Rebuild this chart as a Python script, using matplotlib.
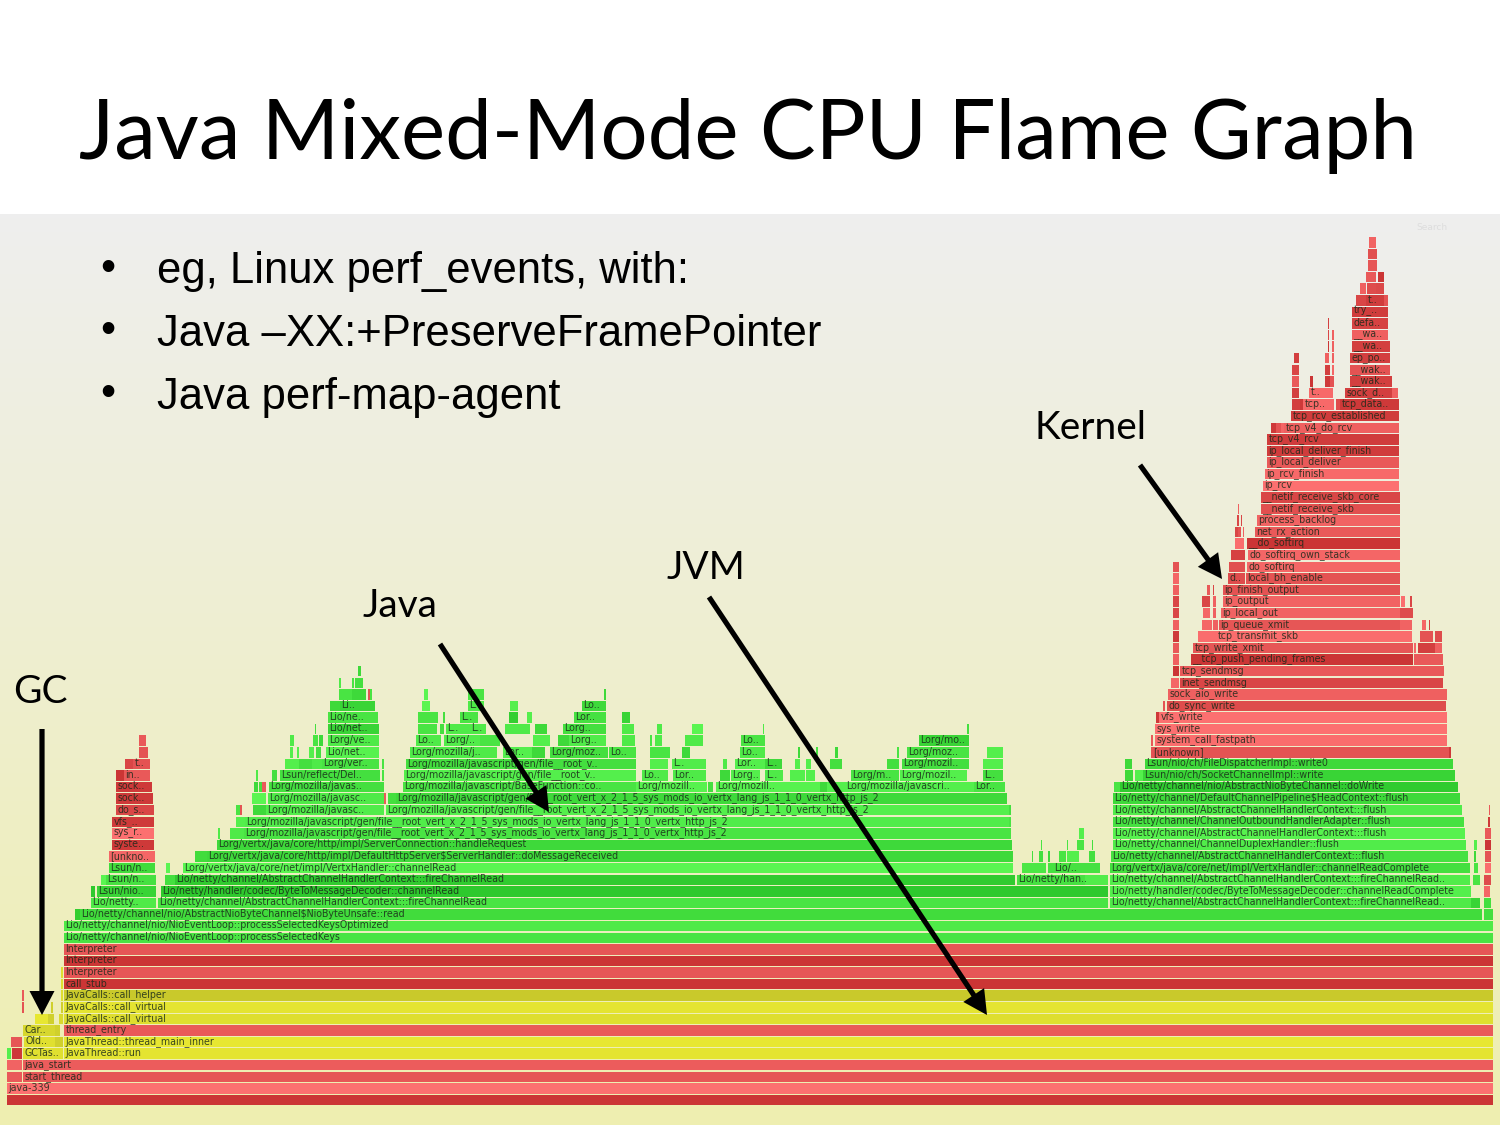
import numpy as np
import matplotlib
matplotlib.use("Agg")
import matplotlib.pyplot as plt
from matplotlib.patches import FancyArrowPatch

# frames: (depth, first sample, last sample, heat 0-1, label)
JS2 = "Lorg/mozilla/javascript/gen/file__root_vert_x_2_1_5_sys_mods_io_vertx_lang_js_1_1_0_vertx_http_js_2"
ACH = "Lio/netty/channel/AbstractChannelHandlerContext::"

root_frames = [
    (0, 7, 1493, .05, ""), (1, 7, 1493, .95, "java-339"),
    (2, 7, 22, .6, ""), (2, 23, 1493, .55, "start_thread"),
    (3, 7, 22, .75, ""), (3, 23, 1493, .65, "java_start"),
    (4, 12, 22, .1, ""), (5, 11, 22, .55, ""),
    (6, 64, 1493, .6, "thread_entry"), (8, 22, 24, .5, ""), (9, 22, 24, .6, ""),
    (10, 64, 1493, .05, "call_stub"), (11, 64, 1493, .55, "Interpreter"),
    (12, 64, 1493, .05, "Interpreter"), (13, 64, 1493, .55, "Interpreter"),
]

jvm_frames = [
    (4, 23, 63, .75, "GCTas.."), (4, 64, 1493, .85, "JavaThread::run"),
    (5, 24, 55, .75, "Old.."), (5, 55, 63, .4, ""),
    (5, 64, 1493, .9, "JavaThread::thread_main_inner"),
    (6, 23, 55, .55, "Car.."), (6, 55, 60, .4, ""),
    (7, 35, 48, .9, ""), (7, 48, 54, .4, ""), (7, 59, 63, .6, ""),
    (7, 64, 1493, .7, "JavaCalls::call_virtual"),
    (8, 51, 53, .4, ""), (8, 61, 63, .4, ""),
    (8, 64, 1493, .85, "JavaCalls::call_virtual"),
    (9, 61, 63, .7, ""), (9, 64, 1493, .25, "JavaCalls::call_helper"),
    (10, 61, 63, .7, ""), (11, 61, 63, .7, ""),
]

java_base_frames = [
    (4, 7, 11, .8, ""),
    (14, 64, 1493, .6, "Lio/netty/channel/nio/NioEventLoop::processSelectedKeys"),
    (15, 64, 1493, .7, "Lio/netty/channel/nio/NioEventLoop::processSelectedKeysOptimized"),
    (16, 75, 80, .2, ""),
    (16, 80, 1482, .45, "Lio/netty/channel/nio/AbstractNioByteChannel$NioByteUnsafe::read"),
    (16, 1484, 1493, .5, ""),
    (17, 91, 156, .7, "Lio/netty.."), (17, 158, 1108, .6, ACH + ":fireChannelRead"),
    (17, 1110, 1471, .7, ACH + ":fireChannelRead.."), (17, 1471, 1480, .3, ""), (17, 1484, 1491, .5, ""),
    (18, 91, 95, .1, ""), (18, 97, 156, .3, "Lsun/nio.."),
    (18, 161, 1108, .1, "Lio/netty/handler/codec/ByteToMessageDecoder::channelRead"),
    (18, 1110, 1471, .8, "Lio/netty/handler/codec/ByteToMessageDecoder::channelReadComplete"),
    (19, 101, 106, .9, ""), (19, 106, 156, .55, "Lsun/n.."),
    (19, 165, 175, .5, ""), (19, 175, 1015, .15, ACH + ":fireChannelRead"),
    (19, 1017, 1085, .55, "Lio/netty/han.."), (19, 1085, 1108, .75, ""),
    (19, 1110, 1470, .75, ACH + ":fireChannelRead.."), (19, 1473, 1480, .6, ""),
    (20, 109, 155, .45, "Lsun/n.."), (20, 166, 170, .9, ""),
    (20, 183, 1013, .9, "Lorg/vertx/java/core/net/impl/VertxHandler::channelRead"),
    (20, 1022, 1046, .65, ""), (20, 1048, 1053, .55, ""), (20, 1053, 1100, .55, "Lio/.."),
    (20, 1110, 1470, .5, "Lorg/vertx/java/core/net/impl/VertxHandler::channelReadComplete"),
    (20, 1474, 1478, .6, ""),
    (21, 195, 207, .45, ""), (21, 207, 1013, .4, "Lorg/vertx/java/core/http/impl/DefaultHttpServer$ServerHandler::doMessageReceived"),
    (21, 1032, 1033, .5, ""), (21, 1039, 1043, .5, ""), (21, 1048, 1050, .4, ""),
    (21, 1059, 1066, .6, ""), (21, 1067, 1072, .8, ""), (21, 1072, 1079, .8, ""), (21, 1089, 1095, .5, ""),
    (21, 1111, 1468, .55, ACH + ":flush"), (21, 1474, 1476, .4, ""),
    (22, 217, 1012, .4, "Lorg/vertx/java/core/http/impl/ServerConnection::handleRequest"),
    (22, 1041, 1042, .6, ""), (22, 1067, 1068, .6, ""), (22, 1077, 1084, .6, ""), (22, 1092, 1093, .5, ""),
    (22, 1113, 1466, .75, "Lio/netty/channel/ChannelDuplexHandler::flush"), (22, 1474, 1477, .8, ""),
    (23, 218, 220, .7, ""), (23, 230, 244, .7, ""), (23, 244, 1011, .6, JS2),
    (23, 1079, 1084, .8, ""), (23, 1113, 1465, .85, ACH + ":flush"),
    (24, 236, 245, .8, ""), (24, 245, 1010, .75, JS2),
    (24, 1009, 1011, .6, ""), (24, 1113, 1464, .55, "Lio/netty/channel/ChannelOutboundHandlerAdapter::flush"),
    (25, 236, 240, .6, ""), (25, 253, 266, .4, ""), (25, 266, 384, .75, "Lorg/mozilla/javasc.."),
    (25, 386, 1009, .8, JS2), (25, 1009, 1011, .5, ""),
    (25, 1113, 1462, .75, ACH + ":flush"),
    (26, 252, 266, .9, ""), (26, 268, 384, .7, "Lorg/mozilla/javasc.."),
    (26, 388, 396, .5, ""), (26, 396, 1007, .4, JS2),
    (26, 1113, 1460, .4, "Lio/netty/channel/DefaultChannelPipeline$HeadContext::flush"),
    (27, 254, 258, .4, ""), (27, 259, 262, .5, ""), (27, 269, 384, .5, "Lorg/mozilla/javas.."),
    (27, 403, 636, .6, "Lorg/mozilla/javascript/BaseFunction::co.."),
    (27, 636, 707, .85, "Lorg/mozill.."), (27, 708, 713, .5, ""), (27, 716, 820, .85, "Lorg/mozill.."),
    (27, 820, 827, .4, ""), (27, 827, 845, .8, ""),
    (27, 845, 974, .8, "Lorg/mozilla/javascri.."), (27, 974, 1005, .6, "Lor.."),
    (27, 1114, 1120, .6, ""), (27, 1120, 1458, .15, "Lio/netty/channel/nio/AbstractNioByteChannel::doWrite"),
    (28, 256, 258, .7, ""), (28, 272, 277, .5, ""), (28, 280, 380, .5, "Lsun/reflect/Del.."),
    (28, 382, 384, .6, ""), (28, 404, 636, .8, "Lorg/mozilla/javascript/gen/file__root_v.."),
    (28, 642, 668, .7, "Lo.."), (28, 673, 706, .7, "Lor.."), (28, 720, 730, .4, ""),
    (28, 731, 760, .8, "Lorg.."), (28, 765, 783, .7, "L.."), (28, 790, 805, .8, ""), (28, 806, 815, .8, ""),
    (28, 851, 899, .6, "Lorg/m.."), (28, 900, 967, .8, "Lorg/mozil.."), (28, 983, 1003, .5, "L.."),
    (28, 1125, 1133, .4, ""), (28, 1135, 1143, .8, ""),
    (28, 1143, 1455, .3, "Lsun/nio/ch/SocketChannelImpl::write"),
    (29, 285, 299, .8, ""), (29, 299, 312, .5, ""), (29, 312, 322, .7, ""), (29, 322, 379, .6, "Lorg/ver.."),
    (29, 382, 384, .6, ""), (29, 406, 636, .5, "Lorg/mozilla/javascript/gen/file__root_v.."),
    (29, 650, 668, .8, ""), (29, 672, 706, .75, "L.."), (29, 723, 727, .7, ""),
    (29, 735, 765, .8, "Lor.."), (29, 765, 782, .4, "L.."), (29, 795, 800, .8, ""), (29, 806, 811, .8, ""),
    (29, 830, 842, .5, ""), (29, 887, 899, .5, ""), (29, 902, 969, .5, "Lorg/mozil.."),
    (29, 983, 1003, .8, ""), (29, 1125, 1132, .4, ""),
    (29, 1145, 1453, .4, "Lsun/nio/ch/FileDispatcherImpl::write0"),
    (30, 290, 293, .8, ""), (30, 297, 299, .8, ""), (30, 309, 314, .8, ""), (30, 316, 321, .5, ""),
    (30, 326, 379, .85, "Lio/net.."), (30, 410, 497, .7, "Lorg/mozilla/j.."), (30, 503, 532, .8, "Lor.."),
    (30, 532, 545, .4, ""), (30, 550, 608, .5, "Lorg/moz.."), (30, 609, 636, .6, "Lo.."),
    (30, 650, 670, .6, ""), (30, 682, 690, .4, ""), (30, 740, 765, .7, "Lo.."),
    (30, 798, 800, .4, ""), (30, 816, 818, .6, ""), (30, 835, 838, .4, ""), (30, 897, 899, .6, ""),
    (30, 907, 969, .6, "Lorg/moz.."), (30, 987, 1003, .8, ""),
    (31, 290, 294, .7, ""), (31, 313, 318, .6, ""), (31, 319, 323, .4, ""), (31, 328, 379, .7, "Lorg/ve.."),
    (31, 416, 441, .7, "Lo.."), (31, 444, 480, .75, "Lorg/.."), (31, 480, 500, .6, ""),
    (31, 533, 550, .8, ""), (31, 558, 569, .4, ""), (31, 569, 606, .75, "Lorg.."),
    (31, 622, 635, .7, ""), (31, 650, 652, .6, ""), (31, 655, 662, .7, ""), (31, 685, 703, .7, ""),
    (31, 741, 765, .6, "Lo.."), (31, 919, 969, .3, "Lorg/mo.."),
    (32, 315, 316, .5, ""), (32, 328, 379, .3, "Lio/net.."), (32, 418, 437, .6, ""), (32, 440, 444, .5, ""),
    (32, 446, 470, .7, "L.."), (32, 470, 486, .7, "L.."), (32, 505, 530, .7, ""), (32, 535, 547, .4, ""),
    (32, 563, 606, .5, "Lorg.."), (32, 622, 634, .7, ""), (32, 657, 662, .7, ""), (32, 692, 703, .9, ""),
    (32, 763, 764, .7, ""), (32, 967, 969, .5, ""),
    (33, 328, 378, .6, "Lio/ne.."), (33, 418, 438, .6, ""), (33, 443, 445, .5, ""), (33, 460, 478, .6, "L.."),
    (33, 509, 518, .2, ""), (33, 527, 532, .8, ""), (33, 574, 606, .55, "Lor.."), (33, 622, 630, .3, ""),
    (34, 330, 340, .4, ""), (34, 340, 375, .3, "Li.."), (34, 422, 430, .9, ""), (34, 468, 484, .7, "L.."),
    (34, 510, 518, .8, ""), (34, 582, 606, .4, "Lo.."),
    (35, 339, 352, .6, ""), (35, 352, 366, .4, ""), (35, 370, 372, .6, ""), (35, 424, 428, .9, ""),
    (35, 468, 484, .6, ""), (35, 604, 606, .4, ""),
    (36, 339, 341, .7, ""), (36, 352, 354, .6, ""), (36, 355, 363, .5, ""), (37, 358, 361, .4, ""),
]

native_frames = [
    (18, 1484, 1490, .8, ""), (19, 1484, 1491, .4, ""), (20, 1485, 1491, .9, ""),
    (21, 109, 155, .8, "[unkno.."), (21, 1485, 1491, .5, ""),
    (22, 112, 154, .1, "syste.."), (22, 1485, 1491, .05, ""),
    (23, 112, 154, .95, "sys_r.."), (23, 1485, 1491, .6, ""),
    (24, 112, 154, .12, "vfs_.."), (24, 1488, 1490, .1, ""),
    (25, 116, 154, .3, "do_s.."), (25, 240, 242, .5, ""), (25, 1489, 1490, .6, ""),
    (26, 116, 153, .1, "sock.."), (26, 384, 386, .6, ""),
    (27, 116, 152, .1, "sock.."), (27, 262, 266, .6, ""),
    (28, 116, 124, .05, ""), (28, 124, 150, .6, "in.."),
    (29, 125, 133, .3, ""), (29, 133, 150, .5, "t.."),
    (30, 139, 148, .5, ""), (31, 139, 146, .6, ""), (35, 368, 370, .5, ""),
    (30, 1151, 1152, .5, ""), (30, 1152, 1449, .5, "[unknown]"), (30, 1449, 1451, .1, ""),
    (31, 1151, 1153, .6, ""), (31, 1155, 1447, .9, "system_call_fastpath"),
    (32, 1155, 1447, .95, "sys_write"), (33, 1156, 1159, .1, ""), (33, 1159, 1447, .95, "vfs_write"),
    (34, 1163, 1165, .5, ""), (34, 1167, 1446, .4, "do_sync_write"),
    (35, 1168, 1447, .7, "sock_aio_write"), (36, 1171, 1179, .8, ""), (36, 1180, 1443, .3, "inet_sendmsg"),
    (37, 1173, 1179, .05, ""), (37, 1180, 1444, .6, "tcp_sendmsg"),
    (38, 1173, 1179, .7, ""), (38, 1191, 1413, .05, "__tcp_push_pending_frames"), (38, 1414, 1443, .6, ""),
    (39, 1173, 1179, .6, ""), (39, 1193, 1413, .55, "tcp_write_xmit"), (39, 1414, 1416, .8, ""),
    (39, 1418, 1435, .2, ""), (39, 1435, 1442, .7, ""),
    (40, 1173, 1179, .1, ""), (40, 1198, 1216, .9, ""), (40, 1216, 1412, .9, "tcp_transmit_skb"),
    (40, 1420, 1433, .5, ""), (40, 1435, 1442, .4, ""),
    (41, 1173, 1179, .7, ""), (41, 1202, 1212, .8, ""), (41, 1213, 1218, .7, ""),
    (41, 1219, 1400, .55, "ip_queue_xmit"), (41, 1400, 1412, .75, ""), (41, 1422, 1426, .8, ""), (41, 1429, 1430, .2, ""),
    (42, 1173, 1179, .3, ""), (42, 1203, 1210, .8, ""), (42, 1213, 1216, .7, ""),
    (42, 1221, 1400, .75, "ip_local_out"), (42, 1400, 1413, .4, ""),
    (43, 1173, 1179, .3, ""), (43, 1202, 1210, .3, ""), (43, 1213, 1216, .7, ""),
    (43, 1223, 1400, .75, "ip_output"), (43, 1401, 1405, .9, ""), (43, 1410, 1412, .3, ""),
    (44, 1173, 1179, .7, ""), (44, 1207, 1210, .6, ""), (44, 1213, 1214, .3, ""),
    (44, 1223, 1400, .5, "ip_finish_output"),
    (45, 1173, 1179, .8, ""), (45, 1228, 1245, .4, "d.."), (45, 1246, 1400, .5, "local_bh_enable"),
    (46, 1173, 1179, .5, ""), (46, 1229, 1245, .45, ""), (46, 1247, 1400, .8, "do_softirq"),
    (47, 1231, 1245, .25, ""), (47, 1248, 1400, .8, "do_softirq_own_stack"),
    (48, 1235, 1244, .9, ""), (48, 1247, 1400, .05, "__do_softirq"),
    (49, 1235, 1238, .3, ""), (49, 1238, 1241, .5, ""), (49, 1243, 1244, .7, ""),
    (49, 1255, 1400, .6, "net_rx_action"),
    (50, 1237, 1239, .3, ""), (50, 1241, 1242, .3, ""), (50, 1257, 1400, .75, "process_backlog"),
    (51, 1238, 1239, .7, ""), (51, 1261, 1400, .45, "__netif_receive_skb"),
    (52, 1261, 1400, .3, "__netif_receive_skb_core"),
    (53, 1263, 1399, .95, "ip_rcv"), (54, 1265, 1399, .85, "ip_rcv_finish"),
    (55, 1267, 1399, .6, "ip_local_deliver"), (56, 1267, 1399, .15, "ip_local_deliver_finish"),
    (57, 1267, 1399, .15, "tcp_v4_rcv"),
    (58, 1271, 1276, .1, ""), (58, 1276, 1281, .5, ""), (58, 1281, 1284, .8, ""),
    (58, 1284, 1399, .7, "tcp_v4_do_rcv"), (59, 1291, 1399, .15, "tcp_rcv_established"),
    (60, 1292, 1300, .2, ""), (60, 1300, 1303, .1, ""), (60, 1303, 1334, .85, "tcp.."), (60, 1336, 1340, .4, ""),
    (60, 1340, 1399, .1, "tcp_data.."),
    (61, 1292, 1299, .2, ""), (61, 1309, 1333, .85, "t.."), (61, 1345, 1392, .2, "sock_d.."), (61, 1392, 1398, .7, ""),
    (62, 1292, 1299, .6, ""), (62, 1310, 1313, .05, ""), (62, 1325, 1330, .1, ""), (62, 1330, 1334, .5, ""),
    (62, 1350, 1392, .2, "__wak.."),
    (63, 1292, 1299, .3, ""), (63, 1325, 1330, .2, ""), (63, 1332, 1334, .8, ""), (63, 1350, 1390, .5, "__wak.."),
    (64, 1294, 1299, .2, ""), (64, 1325, 1329, .7, ""), (64, 1332, 1334, .7, ""), (64, 1350, 1390, .2, "ep_po.."),
    (65, 1328, 1329, .05, ""), (65, 1332, 1334, .7, ""), (65, 1352, 1390, .2, "__wa.."),
    (66, 1328, 1329, .3, ""), (66, 1332, 1334, .7, ""), (66, 1352, 1388, .7, "__wa.."),
    (67, 1328, 1329, .2, ""), (67, 1352, 1388, .25, "defa.."), (68, 1352, 1388, .15, "try_.."),
    (69, 1356, 1360, .3, ""), (69, 1360, 1366, .3, ""), (69, 1366, 1384, .15, "t.."), (69, 1384, 1388, .5, ""),
    (70, 1360, 1366, .7, ""), (70, 1367, 1376, .4, ""), (70, 1376, 1384, .35, ""),
    (71, 1366, 1376, .6, ""), (71, 1378, 1384, .05, ""),
    (72, 1368, 1377, .55, ""), (73, 1368, 1377, .45, ""), (74, 1369, 1376, .75, ""),
]

title_text = "Java Mixed-Mode CPU Flame Graph"
bullet_items = ["eg, Linux perf_events, with:", "Java \u2013XX:+PreserveFramePointer", "Java perf-map-agent"]
callouts = ["GC", "Java", "JVM", "Kernel"]


def red(h):
    return (200 + 55 * h, 50 + 65 * h, 50 + 65 * h)


def green(h):
    return (40 + 55 * h, 195 + 55 * h, 40 + 45 * h)


def yellow(h):
    return (190 + 45 * h, 190 + 45 * h, 40 + 10 * h)


fig = plt.figure(figsize=(15, 11.25), dpi=100, facecolor="white")
H = 1125.0

# slide background gradient
bg = fig.add_axes([0, 0, 1, (H - 214) / H], zorder=0)
grad = np.linspace(0, 1, 256)[:, None, None] * (np.array([238, 238, 176]) - np.array([238, 238, 238])) + np.array([238, 238, 238])
bg.imshow(grad / 255, aspect="auto", extent=(0, 1, 0, 1), origin="upper")
bg.axis("off")

# flame graph axes: x in samples, y in stack depth
row = 11.59
fl = fig.add_axes([0, (H - 1105.8) / H, 1, 75 * row / H], zorder=1)
fl.set_xlim(0, 1500)
fl.set_ylim(-0.5, 74.5)
fl.axis("off")
fl.patch.set_alpha(0)

for frames, cmap in [(root_frames, red), (native_frames, red), (jvm_frames, yellow), (java_base_frames, green)]:
    d = [f[0] for f in frames]
    s = [f[1] for f in frames]
    w = [f[2] - f[1] for f in frames]
    c = [tuple(v / 255 for v in cmap(f[3])) for f in frames]
    fl.barh(d, w, left=s, height=0.9, color=c, edgecolor="none", linewidth=0)
    for f in frames:
        if f[4]:
            fl.text(f[1] + 1.5, f[0] + 0.06, f[4], fontsize=6.85, color="#1a2a1a", va="center", ha="left",
                    family="DejaVu Sans", alpha=0.85)

# overlay for text and arrows in pixel coordinates
ov = fig.add_axes([0, 0, 1, 1], zorder=2)
ov.set_xlim(0, 1500)
ov.set_ylim(1125, 0)
ov.axis("off")
ov.patch.set_alpha(0)

ov.text(748, 136, title_text, fontsize=60.1, family="Lato", ha="center", va="center", color="black")
ov.text(1432, 227, "Search", fontsize=6.5, color="#dddddd", ha="center", va="center", family="DejaVu Sans")

for y, t in zip([272, 334, 397], bullet_items):
    ov.text(100, y - 3, "\u2022", fontsize=31, family="Liberation Sans", ha="left", va="center", color="black")
    ov.text(157, y, t, fontsize=31.4, family="Liberation Sans", ha="left", va="center", color="black")

for (x, y), t in zip([(40, 692), (400, 606), (706, 568), (1090, 428)], callouts):
    ov.text(x, y, t, fontsize=28, family="Lato", ha="center", va="center", color="black")

for a, b in [((42, 729), (42, 1015)), ((440, 644), (549, 812)), ((709, 597), (987, 1015)), ((1140, 465), (1222, 579))]:
    ov.add_patch(FancyArrowPatch(a, b, arrowstyle="simple,head_length=2.4,head_width=2.5,tail_width=0.52",
                                 mutation_scale=7.2, lw=0, color="black", shrinkA=0, shrinkB=0))

fig.savefig("out.png", dpi=100)
